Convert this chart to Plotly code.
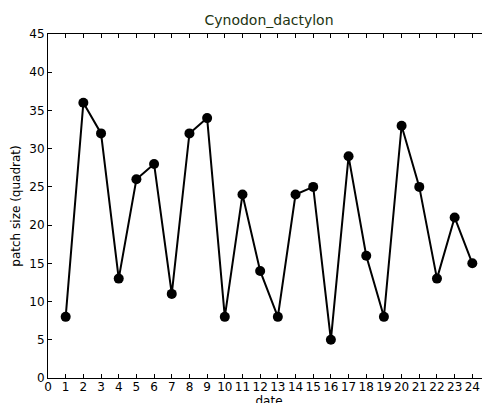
import plotly.graph_objects as go

dates = list(range(1, 25))
patch_size = [8, 36, 32, 13, 26, 28, 11, 32, 34, 8, 24, 14, 8, 24, 25, 5, 29, 16, 8, 33, 25, 13, 21, 15]
x_ticks = list(range(0, 25))
y_ticks = list(range(0, 46, 5))

fig = go.Figure()
fig.add_trace(go.Scatter(
    x=dates, y=patch_size, mode="lines+markers",
    line=dict(color="black", width=2),
    marker=dict(color="black", size=10),
    showlegend=False,
))
# empty trace so the right-hand tick axis gets drawn
fig.add_trace(go.Scatter(x=[], y=[], yaxis="y2", showlegend=False, hoverinfo="skip"))

axis_common = dict(
    showgrid=False, zeroline=False, showline=True, linecolor="black", linewidth=1,
    ticks="inside", ticklen=4, tickcolor="black", tickwidth=1,
    automargin=False,
    tickfont=dict(family="DejaVu Sans", size=12, color="black"),
)

fig.update_layout(
    width=482, height=403,
    margin=dict(l=40, r=0, t=26, b=33),
    paper_bgcolor="white", plot_bgcolor="white",
    title=dict(text="Cynodon_dactylon", x=0.5415, xanchor="center", y=1 - 12 / 403, yanchor="middle",
               font=dict(family="DejaVu Sans", size=14, color="#223311")),
    xaxis=dict(range=[0, 25], tickvals=x_ticks, ticklabelstandoff=-2, mirror="ticks",
               title=dict(text="date", standoff=2, font=dict(family="DejaVu Sans", size=12, color="black")),
               **axis_common),
    yaxis=dict(range=[0, 45], tickvals=y_ticks, mirror=False,
               title=dict(text="patch size (quadrat)", standoff=6, font=dict(family="DejaVu Sans", size=12, color="black")),
               **axis_common),
    yaxis2=dict(range=[0, 45], tickvals=y_ticks, overlaying="y", side="right",
                showline=False, showgrid=False, zeroline=False, showticklabels=False,
                ticks="inside", ticklen=4, tickcolor="black", tickwidth=1, automargin=False),
)

fig.write_html("out.html")
